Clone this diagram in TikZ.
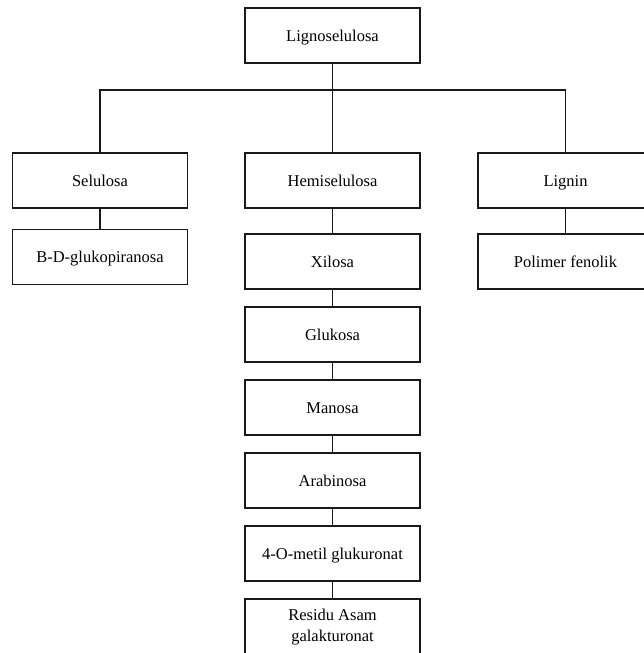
\documentclass[tikz,border=0pt]{standalone}
\usepackage{fontspec}
\setmainfont{Liberation Serif}
\begin{document}
\begin{tikzpicture}[x=1pt,y=-1pt,
  box/.style={draw=black!90,line width=1.2pt,fill=white,minimum width=175pt,minimum height=55pt,
    inner sep=0pt,align=center,text height=12.5pt,text depth=1.5pt,
    font=\fontsize{16.5}{21}\selectfont},
  link/.style={draw=black!90,line width=1.2pt}]
\useasboundingbox (0,0) rectangle (644,653);
% top level
\node[box] (ls) at (332.5,35.5) {Lignoselulosa};
% second level
\node[box] (sel) at (100,180.5) {Selulosa};
\node[box] (hem) at (332.5,180.5) {Hemiselulosa};
\node[box] (lig) at (565.5,180.5) {Lignin};
% components
\node[box] (bdg) at (100,257) {B-D-glukopiranosa};
\node[box] (pf) at (565.5,261.5) {Polimer fenolik};
\node[box] (xil) at (332.5,261.5) {Xilosa};
\node[box] (glu) at (332.5,334.5) {Glukosa};
\node[box] (man) at (332.5,407.5) {Manosa};
\node[box] (ara) at (332.5,480.5) {Arabinosa};
\node[box] (mgl) at (332.5,553.5) {4-O-metil glukuronat};
\node[box,text height=32pt] (res) at (332.5,626.5) {Residu Asam\\galakturonat};
% branch point
\coordinate (j) at (332.5,90);
\draw[link] (ls.south) -- (hem.north);
\draw[link] (sel.north) |- (j) -| (lig.north);
\draw[link] (sel.south) -- (bdg.north);
\draw[link] (lig.south) -- (pf.north);
\draw[link] (hem.south) -- (xil.north);
\draw[link] (xil.south) -- (glu.north);
\draw[link] (glu.south) -- (man.north);
\draw[link] (man.south) -- (ara.north);
\draw[link] (ara.south) -- (mgl.north);
\draw[link] (mgl.south) -- (res.north);
\end{tikzpicture}
\end{document}
